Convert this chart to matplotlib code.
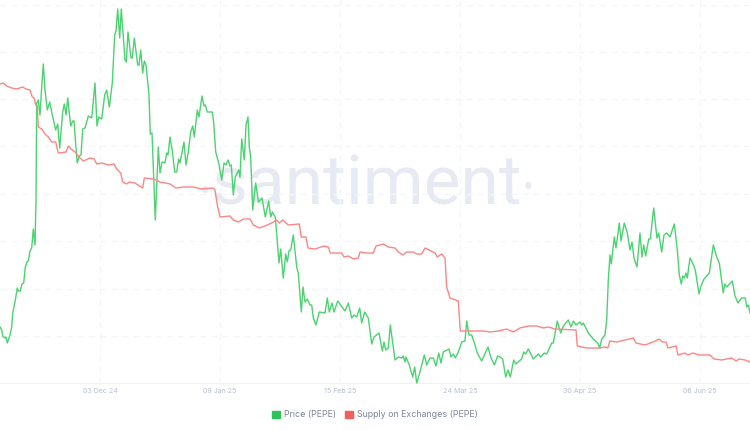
import matplotlib
matplotlib.use('Agg')
import matplotlib.pyplot as plt
from matplotlib.patches import Patch

plt.rcParams['font.family'] = ['Inter', 'DejaVu Sans']

# no y scale is shown on the chart, so both series are an index read off the picture
# time is in chart steps, 120 steps = 37 days
price_t = [0, 1.7, 2.7, 4.7, 6, 7.3, 10, 11.7, 12.7, 15, 17.3, 18.3, 20.3, 22, 23.7, 25.3, 27, 28.3, 30, 31.7,
           33.3, 35, 36, 36.7, 38.3, 40, 41.7, 43.3, 45, 47.3, 49.7, 52.3, 55.7, 57.7, 59.7, 62.7, 64.3, 66, 67.7, 70.7,
           72.7, 74, 76, 77.3, 79.3, 81, 82.7, 85, 88.3, 91.7, 95, 97, 98.7, 101.7, 104.7, 106.7, 109.3, 112.3, 114.7, 116,
           117.7, 119.7, 121.3, 125, 126.3, 128, 131, 132.3, 134.3, 137.7, 139, 140.7, 142.7, 144.3, 146, 149, 150.3, 152, 155.3, 158.3,
           160, 162, 165, 166.7, 168, 170, 172.3, 174.7, 176.7, 178.7, 180, 184, 186, 188.3, 190.7, 192.7, 194.3, 197.3, 199, 202,
           204, 205.3, 207.3, 212.3, 213.7, 215.7, 218.7, 221.7, 224, 226, 228, 230, 231.3, 233.3, 235.3, 238.7, 240, 241.7, 244.3, 246,
           248, 249.3, 250.7, 252.7, 255.7, 258.5, 262, 265.3, 268.7, 270.7, 272.3, 275.3, 279, 280.7, 283.3, 285.7, 287.3, 289, 290.7, 293.3,
           296.7, 298.3, 301.3, 303, 305, 307.3, 310, 311.7, 313.3, 316, 319.3, 325, 327.3, 329.3, 332, 334, 337.7, 345, 348.3, 351.7,
           354, 356.7, 359.7, 361.7, 364.7, 368.3, 371.7, 374, 379, 382.3, 384, 385.7, 388.3, 390.3, 392.3, 395, 398.3, 401.7, 403.3, 405,
           406, 409.3, 412.7, 414.7, 416.7, 420, 424.3, 426.7, 430, 433.3, 436, 438.7, 441, 443.3, 449, 451, 453.3, 455.3, 458.3, 461.7,
           465, 466.7, 469, 471.7, 475, 477.3, 481.7, 488, 490.7, 494.3, 497.7, 500, 502.7, 505.7, 508, 510.3, 513.7, 515.7, 521.7, 523.7,
           525.7, 528.3, 533.3, 538.3, 540.7, 544.3, 546.7, 551.7, 553.3, 557.3, 560.7, 563.3, 568.3, 571, 573.3, 576, 580, 581.7, 583.3, 588.3,
           593.3, 597.7, 599.7, 601.7, 605, 606.7, 608.3, 610, 611.3, 614.3, 616, 619.3, 621, 624.3, 627.3, 630, 632, 634, 637, 640,
           642, 643.7, 645.7, 648.7, 650.3, 653.7, 657, 658.7, 661.7, 664, 666.7, 670, 674.3, 677.3, 679.3, 681.3, 682.7, 684.3, 686, 687.3,
           690, 692.7, 695.3, 699, 701, 704, 709.3, 713.3, 716.7, 719.3, 723.3, 724.7, 726.7, 732.3, 735, 738, 741.7, 745.3, 746.7, 748.3, 750]
price = [56, 53, 47, 45, 46, 40, 48, 56, 70, 81, 95, 92, 92, 99, 100, 116, 121, 122, 132, 135,
         154, 138, 183, 280, 283, 268, 296, 319, 293, 273, 281, 268, 253, 259, 235, 271, 279, 268, 285, 257,
         262, 262, 235, 220, 227, 228, 254, 255, 267, 265, 300, 257, 266, 264, 288, 293, 276, 300, 348, 352,
         374, 345, 374, 323, 321, 351, 325, 325, 345, 318, 318, 333, 310, 322, 318, 288, 249, 250, 163, 236,
         210, 221, 220, 230, 228, 246, 232, 211, 211, 224, 220, 241, 218, 231, 251, 257, 246, 273, 266, 287,
         277, 278, 271, 271, 260, 231, 220, 203, 220, 218, 223, 217, 218, 188, 206, 213, 206, 244, 223, 258,
         266, 236, 226, 173, 200, 181, 185, 166, 182, 166, 171, 166, 120, 134, 105, 129, 121, 132, 133, 148,
         116, 110, 71, 96, 81, 84, 78, 78, 65, 58, 71, 70, 85, 71, 80, 71, 82, 72, 80, 65,
         68, 66, 75, 60, 71, 65, 39, 46, 50, 32, 41, 33, 35, 58, 43, 23, 26, 25, 27, 21,
         26, 18, 6, 16, 0, 11, 28, 18, 25, 25, 17, 30, 20, 31, 34, 26, 29, 25, 31, 41,
         42, 62, 48, 48, 38, 30, 22, 36, 26, 18, 27, 26, 24, 6, 13, 6, 23, 19, 24, 31,
         29, 34, 24, 29, 26, 30, 29, 40, 40, 62, 50, 57, 63, 56, 62, 58, 61, 58, 60, 50,
         44, 40, 35, 44, 48, 63, 103, 128, 119, 146, 135, 160, 142, 160, 150, 133, 141, 125, 116, 150,
         126, 138, 127, 144, 144, 175, 145, 150, 131, 148, 150, 146, 159, 133, 108, 99, 107, 105, 110, 105,
         125, 120, 113, 89, 97, 104, 110, 138, 126, 120, 90, 99, 96, 102, 87, 80, 85, 85, 76, 78, 70]

supply_t = [0, 3.3, 6.7, 11.7, 16.7, 22.7, 26, 30, 32.3, 34, 35.7, 37.3, 38.3, 41.7, 45, 48.3, 51.7, 55.7, 58.3, 66,
            68.3, 71, 75, 79, 83.3, 90, 94.3, 96.7, 101.7, 108.3, 114, 116.7, 120.7, 122.7, 126.7, 129.3, 135, 142.7, 144.3, 153.3,
            160, 170, 176, 183.3, 193.3, 201.7, 213.3, 215, 217.3, 220, 230, 233.3, 238.3, 243.3, 250, 253.3, 259.3, 265, 271.7, 276.7,
            279.3, 282.7, 288.3, 299.3, 301.3, 306, 308, 315, 324, 328.3, 330.3, 341.7, 344, 348.3, 353.3, 358.3, 360, 366.7, 373.3, 376,
            383.3, 388.3, 395, 398.3, 402.7, 406.7, 413.3, 416.7, 421.7, 425, 435, 437.3, 441.7, 445, 446.7, 450, 458.3, 460.3, 483.3, 490,
            498.3, 506.7, 513.3, 520, 528.3, 536.7, 543.3, 548.3, 555, 576, 577.3, 586.7, 600, 605, 607.7, 610, 616.7, 625, 633.3, 636,
            645, 653.3, 659.3, 662.3, 666, 668, 676, 678, 685, 687.7, 692.7, 699.3, 710, 714, 721.7, 731.7, 736, 739.3, 745, 750]
supply = [299, 300, 297, 295, 294, 296, 294, 293, 286, 285, 278, 277, 256, 254, 249, 246, 241, 241, 230, 231,
          237, 234, 231, 226, 222, 225, 224, 219, 220, 218, 219, 214, 210, 201, 199, 201, 200, 195, 205, 204,
          201, 199, 195, 196, 196, 194, 195, 193, 178, 166, 167, 163, 161, 164, 164, 158, 155, 157, 160, 163,
          160, 163, 158, 159, 146, 146, 135, 134, 137, 136, 130, 130, 126, 127, 124, 125, 131, 130, 130, 137,
          139, 136, 135, 131, 128, 131, 131, 129, 129, 135, 130, 126, 129, 125, 96, 85, 82, 52, 52, 51,
          52, 54, 51, 55, 57, 57, 55, 56, 54, 53, 37, 35, 35, 36, 35, 42, 41, 43, 45, 40,
          38, 41, 44, 41, 41, 35, 37, 28, 30, 28, 30, 28, 28, 24, 23, 25, 22, 24, 23, 21]

date_ticks = [100, 220, 340, 460, 580, 700]
date_labels = ['03 Dec 24', '09 Jan 25', '15 Feb 25', '24 Mar 25', '30 Apr 25', '06 Jun 25']
grid_levels = [47, 94, 142, 189, 237, 284, 331, 378]

GREEN = '#4ad36f'
RED = '#ff8585'
GRID = '#f3f5f9'
MUTED = '#b8bfd1'
WATERMARK = '#e7eaf3'

fig = plt.figure(figsize=(7.5, 4.3), dpi=100)
ax = fig.add_axes([0, 47 / 430, 1, 383 / 430])
ax.set_xlim(0, 750)
ax.set_ylim(0, 383)

ax.set_xticks(date_ticks)
ax.set_xticklabels(date_labels)
ax.set_yticks(grid_levels)
ax.tick_params(axis='x', length=0, labelsize=5.1, labelcolor=MUTED, pad=3.5)
ax.tick_params(axis='y', length=0, labelleft=False)
ax.grid(True, color=GRID, linewidth=1, linestyle=(0, (4, 4)))
ax.set_axisbelow(True)

for side in ['top', 'left', 'right']:
    ax.spines[side].set_visible(False)
ax.spines['bottom'].set_color('#f0f2f7')

# watermark sits under the lines, the two dots are bigger than the font's own
ax.text(0.49, 0.515, 'santiment', transform=ax.transAxes, ha='center', va='center',
        fontsize=50, color=WATERMARK, family='Roboto', zorder=0.5)
ax.text(0.273, 0.498, '•', transform=ax.transAxes, ha='center', va='center',
        fontsize=22, color=WATERMARK, family='Roboto', zorder=0.5)
ax.text(0.704, 0.509, '•', transform=ax.transAxes, ha='center', va='center',
        fontsize=22, color=WATERMARK, family='Roboto', zorder=0.5)

ax.plot(price_t, price, color=GREEN, linewidth=1.0, zorder=3, clip_on=False)
ax.plot(supply_t, supply, color=RED, linewidth=1.0, zorder=3)

handles = [Patch(color='#2fc45a', label='Price (PEPE)'), Patch(color='#f25f5f', label='Supply on Exchanges (PEPE)')]
fig.legend(handles=handles, loc='lower center', bbox_to_anchor=(0.5, 0.006), ncol=2, frameon=False,
           fontsize=6.4, labelcolor='#7c8699', handlelength=0.85, handleheight=0.85, handletextpad=0.5, columnspacing=1.0)

fig.savefig('out.png', dpi=100)
